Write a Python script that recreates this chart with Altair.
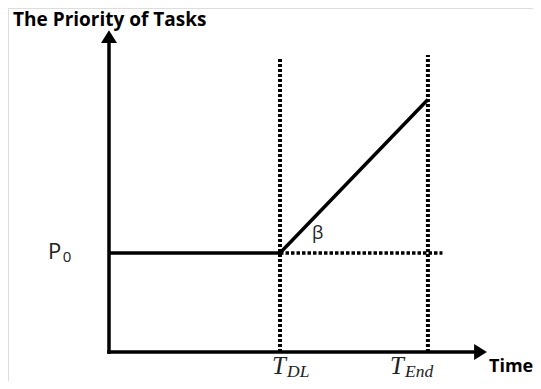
import altair as alt
import pandas as pd

# ---- data (abstract units) ----
T_DL = 1.0
T_END = 1.865
P0 = 1.0
P_END = 2.55
guide_x = [T_DL, T_END]
guide_top = [2.97, 3.0]
dot_end = 1.95
x_axis_tip = 2.21
y_axis_tip = 3.25

priority_x = [0.0, T_DL, T_END]
priority_y = [P0, P0, P_END]

# label texts
title_text = "The Priority of Tasks"
time_text = "Time"
p_text, p_sub = "P", "0"
beta_text = "β"
t_main = ["T", "T"]
t_subs = ["DL", "End"]

# ---- scales ----
xs = alt.Scale(domain=[-0.5906, 2.4795], nice=False, zero=False)
ys = alt.Scale(domain=[-0.2929, 3.4747], nice=False, zero=False)

def X(f):
    return alt.X(f, type="quantitative", scale=xs, axis=None)

def Y(f):
    return alt.Y(f, type="quantitative", scale=ys, axis=None)

# axes as rules
axes_df = pd.DataFrame({
    "x": [0.0, 0.0], "x2": [x_axis_tip - 0.04, 0.0],
    "y": [0.0, 0.0], "y2": [0.0, y_axis_tip - 0.08],
})
axes = alt.Chart(axes_df).mark_rule(color="black", strokeWidth=3.5, strokeCap="square").encode(
    x=X("x"), x2="x2", y=Y("y"), y2="y2")

# arrowheads
arrow_y = alt.Chart(pd.DataFrame({"x": [0.0], "y": [y_axis_tip]})).mark_point(
    shape="M0,0L-1,1.6L1,1.6Z", filled=True, color="black", opacity=1, size=256
).encode(x=X("x"), y=Y("y"))
arrow_x = alt.Chart(pd.DataFrame({"x": [x_axis_tip], "y": [0.0]})).mark_point(
    shape="M0,0L-1.6,-1L-1.6,1Z", filled=True, color="black", opacity=1, size=256
).encode(x=X("x"), y=Y("y"))

# dotted verticals
guides_df = pd.DataFrame({"x": guide_x, "y": [0.0, 0.0], "y2": guide_top})
guides = alt.Chart(guides_df).mark_rule(color="black", strokeWidth=4, strokeDash=[3, 2]).encode(
    x=X("x"), y=Y("y"), y2="y2")

# dotted horizontal at P0
hdot = alt.Chart(pd.DataFrame({"x": [T_DL], "x2": [dot_end], "y": [P0]})).mark_rule(
    color="black", strokeWidth=3.5, strokeDash=[3.5, 2]).encode(x=X("x"), x2="x2", y=Y("y"))

# priority line
prio_df = pd.DataFrame({"x": priority_x, "y": priority_y, "o": [0, 1, 2]})
prio = alt.Chart(prio_df).mark_line(color="black", strokeWidth=3.5, strokeJoin="miter").encode(
    x=X("x"), y=Y("y"), order="o:O")

# labels
def label(x, y, text, **kw):
    return alt.Chart(pd.DataFrame({"x": [x], "y": [y], "t": [text]})).mark_text(
        align="left", baseline="alphabetic", **kw).encode(x=X("x"), y=Y("y"), text="t:N")

title = label(-0.561, 3.288, title_text, font="Open Sans", fontSize=19, fontWeight="bold", color="black")
time = label(2.222, -0.202, time_text, font="Open Sans", fontSize=18, fontWeight="bold", color="black")
p_lbl = label(-0.357, 0.939, p_text, font="Open Sans", fontSize=22, color="#222222")
p_sub_lbl = label(-0.27, 0.909, p_sub, font="Open Sans", fontSize=15, color="#222222")
beta = label(1.187, 1.141, beta_text, font="Open Sans", fontSize=18, color="#222222")
t1 = label(0.953, -0.222, t_main[0], font="Liberation Serif", fontSize=25, fontStyle="italic", color="#222222")
t1s = label(1.041, -0.2525, t_subs[0], font="Liberation Serif", fontSize=17.5, fontStyle="italic", color="#222222")
t2 = label(1.643, -0.222, t_main[1], font="Liberation Serif", fontSize=25, fontStyle="italic", color="#222222")
t2s = label(1.731, -0.2525, t_subs[1], font="Liberation Serif", fontSize=17.5, fontStyle="italic", color="#222222")

chart = alt.layer(
    guides, hdot, axes, arrow_y, arrow_x, prio,
    title, time, p_lbl, p_sub_lbl, beta, t1, t1s, t2, t2s
).properties(
    width=525, height=373, padding=0, autosize=alt.AutoSizeParams(type="none")
).configure_view(stroke=None).configure(background="white")

chart.save("out.html", embed_options={"renderer": "svg", "actions": False})
